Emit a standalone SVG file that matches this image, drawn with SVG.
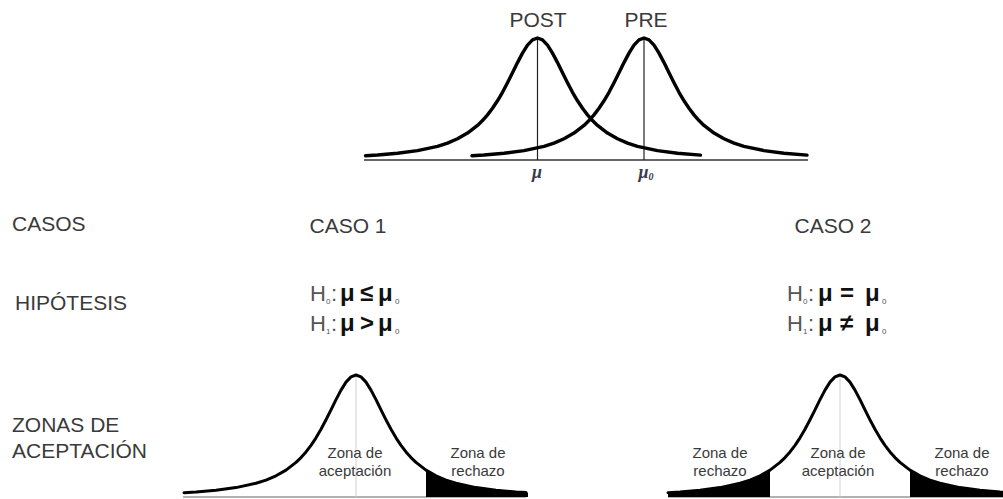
<svg xmlns="http://www.w3.org/2000/svg" xmlns:xlink="http://www.w3.org/1999/xlink" width="1003" height="499" viewBox="0 0 1003 499">
<style>
.lbl{font-family:"Liberation Sans",Arial,sans-serif;fill:#3a3a3a;font-size:21px}
.zone{font-family:"Liberation Sans",Arial,sans-serif;fill:#3a3a3a;font-size:15px;text-anchor:middle}
.hyp{font-family:"Liberation Sans",Arial,sans-serif;font-size:22px}
.h{fill:#555}
.sub{fill:#555;font-size:8px}
.mu{font-weight:bold;fill:#111;font-size:24px}
.curve{fill:none;stroke:#000;stroke-linejoin:round;stroke-linecap:round}
.top{stroke-width:3.4}
.bot{stroke-width:3}
.greek{font-family:"Liberation Serif",serif;font-style:italic;font-weight:bold;fill:#3a3a4a;font-size:18px;text-anchor:middle}
</style>
<defs>
<path id="bell" d="M-172,-4.3 L-160,-5 L-140,-6.8 L-120,-9.4 L-100,-13.7 L-90,-16.9 L-80,-21.2 L-70,-26.9 L-60,-34.6 L-55,-39.4 L-50,-45.1 L-45,-51.7 L-40,-59.2 L-35,-67.7 L-30,-77.2 L-25,-87.2 L-20,-97.4 L-15,-106.9 L-10,-114.9 L-5,-120.1 L0,-122 L5,-120.1 L10,-114.9 L15,-106.9 L20,-97.4 L25,-87.2 L30,-77.2 L35,-67.7 L40,-59.2 L45,-51.7 L50,-45.1 L55,-39.4 L60,-34.6 L70,-26.9 L80,-21.2 L90,-16.9 L100,-13.7 L120,-9.4 L140,-6.8 L160,-5 L170,-4.4"/>
<path id="bellTop" d="M-172,-4.3 L-160,-5 L-140,-6.8 L-120,-9.4 L-100,-13.7 L-90,-16.9 L-80,-21.2 L-70,-26.9 L-60,-34.6 L-55,-39.4 L-50,-45.1 L-45,-51.7 L-40,-59.2 L-35,-67.7 L-30,-77.2 L-25,-87.2 L-20,-97.4 L-15,-106.9 L-10,-114.9 L-5,-120.1 L0,-122 L5,-120.1 L10,-114.9 L15,-106.9 L20,-97.4 L25,-87.2 L30,-77.2 L35,-67.7 L40,-59.2 L45,-51.7 L50,-45.1 L55,-39.4 L60,-34.6 L70,-26.9 L80,-21.2 L90,-16.9 L100,-13.7 L120,-9.4 L140,-6.8 L163,-4.9"/>
<path id="tail" d="M70,0 L70,-26.9 L80,-21.2 L90,-16.9 L100,-13.7 L120,-9.4 L140,-6.8 L160,-5 L172,-4.3 L172,0 Z" fill="#000"/>
</defs>
<rect width="1003" height="499" fill="#fff"/>

<g id="top-distributions">
<line x1="364" y1="160" x2="808" y2="160" stroke="#333" stroke-width="1.5"/>
<line x1="537.5" y1="38" x2="537.5" y2="160" stroke="#222" stroke-width="1.2"/>
<line x1="644" y1="38" x2="644" y2="160" stroke="#222" stroke-width="1.2"/>
<use xlink:href="#bellTop" class="curve top" transform="translate(537.5,160)"/>
<use xlink:href="#bellTop" class="curve top" transform="translate(644,160)"/>
<text class="lbl" x="538" y="27" text-anchor="middle">POST</text>
<text class="lbl" x="646" y="27" text-anchor="middle">PRE</text>
<text class="greek" x="537" y="178">μ</text>
<text class="greek" x="646" y="178">μ<tspan font-size="10" dy="2">0</tspan></text>
</g>

<g id="row-labels">
<text class="lbl" x="12" y="231">CASOS</text>
<text class="lbl" x="15" y="310">HIPÓTESIS</text>
<text class="lbl" x="12" y="432" font-size="22">ZONAS DE</text>
<text class="lbl" x="12" y="458" font-size="22">ACEPTACIÓN</text>
</g>

<g id="caso1">
<text class="lbl" x="348" y="233" text-anchor="middle">CASO 1</text>
<text class="hyp"><tspan class="h" x="310" y="301">H</tspan><tspan class="sub" x="326" y="304">0</tspan><tspan class="h" x="331" y="301">:</tspan><tspan class="mu" x="340" y="301">μ</tspan><tspan class="mu" x="360" y="301">≤</tspan><tspan class="mu" x="378" y="301">μ</tspan><tspan class="sub" x="395" y="304">0</tspan></text>
<text class="hyp"><tspan class="h" x="310" y="331">H</tspan><tspan class="sub" x="326" y="334">1</tspan><tspan class="h" x="331" y="331">:</tspan><tspan class="mu" x="340" y="331">μ</tspan><tspan class="mu" x="360" y="331">&gt;</tspan><tspan class="mu" x="378" y="331">μ</tspan><tspan class="sub" x="395" y="334">0</tspan></text>
<line x1="183" y1="497" x2="526" y2="497" stroke="#999" stroke-width="1.5"/>
<line x1="356" y1="376" x2="356" y2="497" stroke="#d0d0d0" stroke-width="1"/>
<use xlink:href="#tail" transform="translate(356,497)"/>
<use xlink:href="#bell" class="curve bot" transform="translate(356,497)"/>
<text class="zone" x="355" y="458">Zona de</text>
<text class="zone" x="355" y="476">aceptación</text>
<text class="zone" x="478" y="458">Zona de</text>
<text class="zone" x="478" y="476">rechazo</text>
</g>

<g id="caso2">
<text class="lbl" x="833" y="233" text-anchor="middle">CASO 2</text>
<text class="hyp"><tspan class="h" x="787" y="301">H</tspan><tspan class="sub" x="803" y="304">0</tspan><tspan class="h" x="808" y="301">:</tspan><tspan class="mu" x="818" y="301">μ</tspan><tspan class="mu" x="840" y="301">=</tspan><tspan class="mu" x="865" y="301">μ</tspan><tspan class="sub" x="882" y="304">0</tspan></text>
<text class="hyp"><tspan class="h" x="787" y="331">H</tspan><tspan class="sub" x="803" y="334">1</tspan><tspan class="h" x="808" y="331">:</tspan><tspan class="mu" x="818" y="331">μ</tspan><tspan class="mu" x="840" y="331">≠</tspan><tspan class="mu" x="865" y="331">μ</tspan><tspan class="sub" x="882" y="334">0</tspan></text>
<line x1="668" y1="497" x2="1003" y2="497" stroke="#999" stroke-width="1.5"/>
<line x1="840" y1="376" x2="840" y2="497" stroke="#d0d0d0" stroke-width="1"/>
<use xlink:href="#tail" transform="translate(840,497)"/>
<use xlink:href="#tail" transform="translate(840,497) scale(-1,1)"/>
<use xlink:href="#bell" class="curve bot" transform="translate(840,497)"/>
<text class="zone" x="720" y="458">Zona de</text>
<text class="zone" x="720" y="476">rechazo</text>
<text class="zone" x="838" y="458">Zona de</text>
<text class="zone" x="838" y="476">aceptación</text>
<text class="zone" x="962" y="458">Zona de</text>
<text class="zone" x="962" y="476">rechazo</text>
</g>
</svg>
